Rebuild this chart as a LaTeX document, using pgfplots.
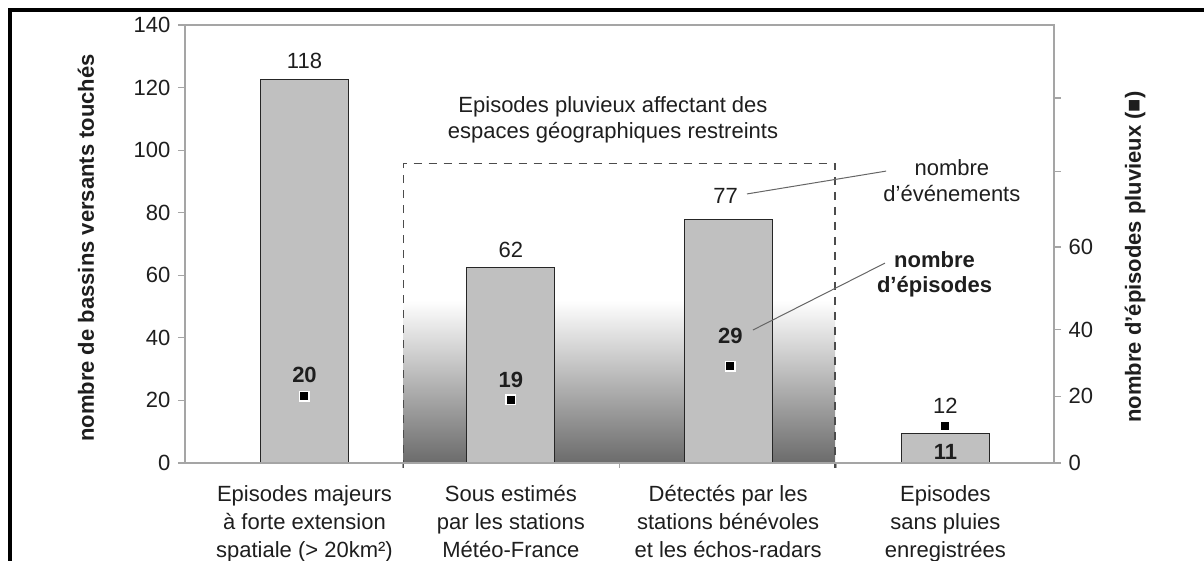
\documentclass[border=0pt]{standalone}
\usepackage{pgfplots}
\pgfplotsset{compat=1.18}
\usepackage{fontspec}
\setmainfont{Liberation Sans}
\definecolor{barfill}{RGB}{192,192,192}
\definecolor{axgray}{RGB}{165,165,165}
\definecolor{txt}{RGB}{30,30,30}
\newcommand{\myE}{\symbol{"00E9}}% e acute
\newcommand{\myA}{\symbol{"00E0}}% a grave
\newcommand{\mySq}{\symbol{"00B2}}% superscript two
\newcommand{\myRq}{\symbol{"2019}}% right quote
\newcommand{\myApo}{\symbol{"0027}}% apostrophe
\newcommand{\myBox}{\symbol{"25A0}}% black square
\begin{document}
\fontsize{11}{13}\selectfont
\begin{tikzpicture}
\begin{axis}[
  name=ax,
  scale only axis, width=434.5pt, height=219pt,
  xmin=-0.5, xmax=3.5, ymin=0, ymax=140,
  axis on top, clip=false,
  axis line style={axgray, line width=0.8pt},
  ytick={0,20,...,140}, ytick pos=left,
  tick align=outside, major tick length=3.5pt,
  ytick style={axgray, line width=0.6pt},
  xtick={0.05,1,2,3}, xtick style={draw=none},
  xticklabels={{Episodes majeurs\\\myA{} forte extension\\spatiale (> 20km\mySq)},
               {Sous estim\myE s\\par les stations\\M\myE t\myE o-France},
               {D\myE tect\myE s par les\\stations b\myE n\myE voles\\et les \myE chos-radars},
               {Episodes\\sans pluies\\enregistr\myE es}},
  xticklabel style={align=center, font=\fontsize{11}{14}\selectfont, yshift=-4pt},
  /pgf/number format/assume math mode=true,
  tick label style={txt},
  yticklabel style={font=\fontsize{11}{13}\selectfont},
]
% gradient behind the restricted-area bars
\fill[top color=white, middle color=black!13, bottom color=black!58, draw=none]
  (axis cs:0.505,0) rectangle (axis cs:2.492,52);
\addplot[ybar, bar width=0.405, fill=barfill, draw=black!85, line width=0.6pt]
  coordinates {(0.05,122.7) (1,62.5) (2,77.9) (3,9.5)};
% dashed box
\draw[black!70, line width=0.7pt, dash pattern=on 4pt off 3.5pt]
  (axis cs:0.505,-1.6) -- (axis cs:0.505,95.8) -- (axis cs:2.492,95.8) -- (axis cs:2.492,-1.6);
% small x ticks between categories
\draw[axgray, line width=0.6pt] (axis cs:0.5,0) -- ([yshift=-2.5pt]axis cs:0.5,0);
\draw[axgray, line width=0.6pt] (axis cs:1.5,0) -- ([yshift=-2.5pt]axis cs:1.5,0);
\draw[axgray, line width=0.6pt] (axis cs:2.5,0) -- ([yshift=-2.5pt]axis cs:2.5,0);
% leader lines
\draw[black!60, line width=0.5pt] (axis cs:2.087,86.0) -- (axis cs:2.727,93.3);
\draw[black!60, line width=0.5pt] (axis cs:2.114,42.5) -- (axis cs:2.722,63.9);
% value labels
\node[txt] at (axis cs:0.05,128.5) {118};
\node[txt] at (axis cs:1,68.1) {62};
\node[txt] at (axis cs:1.988,85.3) {77};
\node[txt] at (axis cs:3,18.2) {12};
\node[txt, font=\fontsize{11}{13}\selectfont\bfseries] at (axis cs:0.05,28.1) {20};
\node[txt, font=\fontsize{11}{13}\selectfont\bfseries] at (axis cs:1,26.5) {19};
\node[txt, font=\fontsize{11}{13}\selectfont\bfseries] at (axis cs:2.01,40.6) {29};
\node[txt, font=\fontsize{11}{13}\selectfont\bfseries] at (axis cs:3,3.5) {11};
\node[txt, align=center, font=\fontsize{11}{13}\selectfont] at (axis cs:1.47,109.6)
  {Episodes pluvieux affectant des\\espaces g\myE ographiques restreints};
\node[txt, align=center, font=\fontsize{11}{13}\selectfont] at (axis cs:3.03,90.4)
  {nombre\\d\myRq\myE v\myE nements};
\node[txt, align=center, font=\fontsize{11}{12.5}\selectfont\bfseries] at (axis cs:2.95,60.4)
  {nombre\\d\myApo\myE pisodes};
\end{axis}
\begin{axis}[
  scale only axis, width=434.5pt, height=219pt,
  xmin=-0.5, xmax=3.5, ymin=0, ymax=131.5,
  hide x axis, axis y line*=right, clip=false,
  axis line style={draw=none},
  tick align=outside, major tick length=3.5pt,
  ytick style={axgray, line width=0.6pt},
  ytick={0,20,40,64.85,87.4,109.6}, yticklabels={0,20,40,60,{},{}},
  /pgf/number format/assume math mode=true,
  tick label style={txt},
  yticklabel style={font=\fontsize{11}{13}\selectfont},
]
\addplot[only marks, mark=square*, mark size=2.4pt,
  mark options={fill=black, draw=white, line width=0.8pt}]
  coordinates {(0.05,20) (1,19) (2.01,29) (3,11)};
\end{axis}
\node[rotate=90, txt, font=\fontsize{11}{13}\selectfont\bfseries] at ([xshift=-49.5pt,yshift=-2pt]ax.west)
  {nombre de bassins versants touch\myE s};
\node[rotate=90, txt, font=\fontsize{11}{13}\selectfont\bfseries] at ([xshift=40.5pt,yshift=-6.5pt]ax.east)
  {nombre d\myApo\myE pisodes pluvieux (\myBox)};
\pgfresetboundingbox
\path[use as bounding box] ([shift={(-92.5pt,-49pt)}]ax.south west) rectangle ([shift={(509.5pt,231.5pt)}]ax.south west);
\draw[black, line width=2pt] ([shift={(-87.5pt,-49pt)}]ax.south west) -- ([shift={(-87.5pt,226.5pt)}]ax.south west) -- ([shift={(509.5pt,226.5pt)}]ax.south west);
\end{tikzpicture}
\end{document}
